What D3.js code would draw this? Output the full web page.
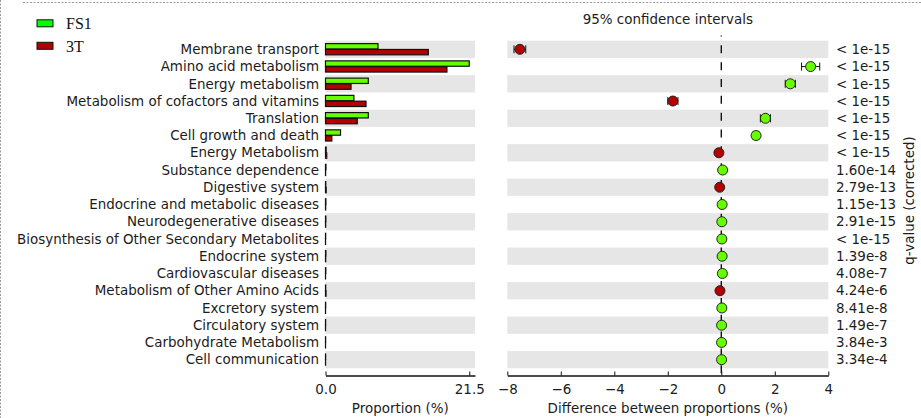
<!DOCTYPE html>
<html>
<head>
<meta charset="utf-8">
<script src="https://cdn.jsdelivr.net/npm/d3@7/dist/d3.min.js"></script>
<style>
  html, body { margin: 0; padding: 0; background: #fff; }
  svg { display: block; font-family: "DejaVu Sans", sans-serif; }
</style>
</head>
<body>
<svg id="chart" width="921" height="418"></svg>
<script>
// KEGG level-2 pathways compared between two samples (extended error bar plot)
const categories = [
  "Membrane transport",
  "Amino acid metabolism",
  "Energy metabolism",
  "Metabolism of cofactors and vitamins",
  "Translation",
  "Cell growth and death",
  "Energy Metabolism",
  "Substance dependence",
  "Digestive system",
  "Endocrine and metabolic diseases",
  "Neurodegenerative diseases",
  "Biosynthesis of Other Secondary Metabolites",
  "Endocrine system",
  "Cardiovascular diseases",
  "Metabolism of Other Amino Acids",
  "Excretory system",
  "Circulatory system",
  "Carbohydrate Metabolism",
  "Cell communication"
];

const groups = ["FS1", "3T"];

// Mean proportions (%)
const fs1Values = [7.85, 21.5, 6.40, 4.25, 6.40, 2.25, 0.10, 0.07, 0.04, 0.06, 0.05, 0.03, 0.06, 0.05, 0.03, 0.03, 0.02, 0.02, 0.02];
const t3Values  = [15.38, 18.16, 3.82, 6.06, 4.75, 0.95, 0.19, 0.02, 0.10, 0.03, 0.03, 0.01, 0.03, 0.01, 0.08, 0.01, 0.01, 0.01, 0.01];

// Difference between proportions (%) with 95% confidence intervals
const diffValues = [-7.53, 3.34, 2.58, -1.81, 1.65, 1.30, -0.09, 0.05, -0.06, 0.03, 0.02, 0.02, 0.03, 0.04, -0.05, 0.02, 0.01, 0.01, 0.01];
const ciLower    = [-7.75, 3.00, 2.39, -2.00, 1.46, 1.18, -0.12, 0.03, -0.08, 0.01, 0.00, 0.00, 0.01, 0.02, -0.07, 0.00, -0.01, -0.01, -0.01];
const ciUpper    = [-7.31, 3.68, 2.77, -1.62, 1.84, 1.42, -0.06, 0.07, -0.04, 0.05, 0.04, 0.04, 0.05, 0.06, -0.03, 0.04, 0.03, 0.03, 0.03];

const qValues = ["< 1e-15", "< 1e-15", "< 1e-15", "< 1e-15", "< 1e-15", "< 1e-15", "< 1e-15",
  "1.60e-14", "2.79e-13", "1.15e-13", "2.91e-15", "< 1e-15", "1.39e-8", "4.08e-7",
  "4.24e-6", "8.41e-8", "1.49e-7", "3.84e-3", "3.34e-4"];

const propTicks = [0, 21.5];
const propMax = 22.36;
const diffDomain = [-8, 4];
const diffTicks = [-8, -6, -4, -2, 0, 2, 4];

const colors = { FS1: "#66ff00", "3T": "#b30000" };
const legendColors = { FS1: "#00ff00", "3T": "#b30000" };

const svg = d3.select("#chart");
const textColor = "#1c1c1c";
const fontSize = 13.45;

// ---- scales ----
const y = d3.scaleBand().domain(categories).range([40.7, 368.3]).paddingInner(0).paddingOuter(0);
const yInner = d3.scaleBand().domain(groups).range([-5.7, 5.5]).paddingInner(0.08);
const xProp = d3.scaleLinear().domain([0, propMax]).range([325.5, 475]);
const xDiff = d3.scaleLinear().domain(diffDomain).range([507.3, 828.3]);
const axisY = 375.5;

// ---- outer frame ----
svg.append("line").attr("x1", 23).attr("x2", 921).attr("y1", 2.5).attr("y2", 2.5)
  .attr("stroke", "#9a9a9a").attr("stroke-width", 1).attr("stroke-dasharray", "2,1.5");
svg.append("line").attr("x1", 0.5).attr("x2", 0.5).attr("y1", 0).attr("y2", 418)
  .attr("stroke", "#9a9a9a").attr("stroke-width", 1).attr("stroke-dasharray", "2,1.5");

// ---- alternating row bands ----
const bandRows = categories.filter((d, i) => i % 2 === 0);
svg.append("g").selectAll("rect").data(bandRows).join("rect")
  .attr("x", xProp(0)).attr("width", xProp.range()[1] - xProp(0))
  .attr("y", d => y(d)).attr("height", y.bandwidth())
  .attr("fill", "#e6e6e6");
svg.append("g").selectAll("rect").data(bandRows).join("rect")
  .attr("x", xDiff.range()[0]).attr("width", xDiff.range()[1] - xDiff.range()[0])
  .attr("y", d => y(d)).attr("height", y.bandwidth())
  .attr("fill", "#e6e6e6");

// ---- proportion bars ----
const barData = [];
categories.forEach((c, i) => {
  barData.push({ cat: c, group: "FS1", value: fs1Values[i] });
  barData.push({ cat: c, group: "3T", value: t3Values[i] });
});
svg.append("g").selectAll("rect").data(barData).join("rect")
  .attr("x", xProp(0))
  .attr("y", d => y(d.cat) + y.bandwidth() / 2 + yInner(d.group))
  .attr("width", d => xProp(d.value) - xProp(0))
  .attr("height", yInner.bandwidth())
  .attr("fill", d => colors[d.group])
  .attr("stroke", "#111").attr("stroke-width", 1.2);

// ---- category labels ----
svg.append("g").selectAll("text").data(categories).join("text")
  .attr("x", 319).attr("y", d => y(d) + y.bandwidth() / 2)
  .attr("dy", "0.35em").attr("text-anchor", "end")
  .attr("font-size", fontSize).attr("fill", textColor)
  .text(d => d);

// ---- zero reference line ----
const dash = 8, gap = 8.84;
const lineTop = 35.5;
const firstDashStart = y(categories[0]) + y.bandwidth() / 2 - dash / 2;
const offset = (dash + gap) - ((firstDashStart - lineTop) % (dash + gap));
svg.append("line")
  .attr("x1", xDiff(0)).attr("x2", xDiff(0))
  .attr("y1", lineTop).attr("y2", axisY)
  .attr("stroke", "#111").attr("stroke-width", 1.4)
  .attr("stroke-dasharray", `${dash},${gap}`)
  .attr("stroke-dashoffset", offset);

// ---- confidence intervals ----
const ciData = categories.map((c, i) => ({ cat: c, diff: diffValues[i], lo: ciLower[i], hi: ciUpper[i], q: qValues[i] }));
const ci = svg.append("g").selectAll("g").data(ciData).join("g")
  .attr("transform", d => `translate(0,${y(d.cat) + y.bandwidth() / 2})`);
ci.append("line")
  .attr("x1", d => xDiff(d.lo)).attr("x2", d => xDiff(d.hi))
  .attr("stroke", "#111").attr("stroke-width", 1);
ci.append("line")
  .attr("x1", d => xDiff(d.lo)).attr("x2", d => xDiff(d.lo))
  .attr("y1", -4).attr("y2", 4)
  .attr("stroke", "#111").attr("stroke-width", 1);
ci.append("line")
  .attr("x1", d => xDiff(d.hi)).attr("x2", d => xDiff(d.hi))
  .attr("y1", -4).attr("y2", 4)
  .attr("stroke", "#111").attr("stroke-width", 1);
ci.append("circle")
  .attr("cx", d => xDiff(d.diff)).attr("r", 5)
  .attr("fill", d => d.diff >= 0 ? colors.FS1 : colors["3T"])
  .attr("stroke", "#222").attr("stroke-width", 1);

// ---- q-values ----
svg.append("g").selectAll("text").data(ciData).join("text")
  .attr("x", 836).attr("y", d => y(d.cat) + y.bandwidth() / 2)
  .attr("dy", "0.35em").attr("font-size", fontSize).attr("fill", textColor)
  .text(d => d.q);

svg.append("text")
  .attr("transform", `translate(909,${(lineTop + axisY) / 2 - 5}) rotate(-90)`)
  .attr("text-anchor", "middle").attr("dy", "0.35em")
  .attr("font-size", fontSize).attr("fill", textColor)
  .text("q-value (corrected)");

// ---- axes ----
function styleAxis(g) {
  g.select(".domain").attr("stroke", "#111").attr("stroke-width", 1.5);
  g.selectAll(".tick line").attr("stroke", "#111").attr("stroke-width", 1);
  g.selectAll(".tick text").attr("font-size", fontSize).attr("fill", textColor)
    .attr("font-family", "DejaVu Sans, sans-serif");
}
const propAxis = d3.axisBottom(xProp).tickValues(propTicks).tickFormat(d3.format(".1f"))
  .tickSizeInner(-4).tickSizeOuter(0).tickPadding(9);
svg.append("g").attr("transform", `translate(0,${axisY})`).call(propAxis).call(styleAxis);

const diffAxis = d3.axisBottom(xDiff).tickValues(diffTicks).tickFormat(d3.format("d"))
  .tickSizeInner(-4).tickSizeOuter(0).tickPadding(9);
svg.append("g").attr("transform", `translate(0,${axisY})`).call(diffAxis).call(styleAxis);

svg.append("text").attr("x", (xProp.range()[0] + xProp.range()[1]) / 2).attr("y", 413)
  .attr("text-anchor", "middle").attr("font-size", fontSize).attr("fill", textColor)
  .text("Proportion (%)");
svg.append("text").attr("x", (xDiff.range()[0] + xDiff.range()[1]) / 2).attr("y", 413)
  .attr("text-anchor", "middle").attr("font-size", fontSize).attr("fill", textColor)
  .text("Difference between proportions (%)");
svg.append("text").attr("x", (xDiff.range()[0] + xDiff.range()[1]) / 2).attr("y", 23.5)
  .attr("text-anchor", "middle").attr("font-size", fontSize).attr("fill", textColor)
  .text("95% confidence intervals");

// ---- legend ----
const legend = svg.append("g").selectAll("g").data(groups).join("g")
  .attr("transform", (d, i) => `translate(37,${19.8 + i * 22.5})`);
legend.append("rect").attr("width", 16).attr("height", 7)
  .attr("fill", d => legendColors[d]).attr("stroke", "#111").attr("stroke-width", 1);
legend.append("text").attr("x", 29).attr("y", 3.5).attr("dy", "0.36em")
  .attr("font-family", "Liberation Serif, Times New Roman, serif")
  .attr("font-size", 16).attr("fill", "#111")
  .text(d => d);
</script>
</body>
</html>
